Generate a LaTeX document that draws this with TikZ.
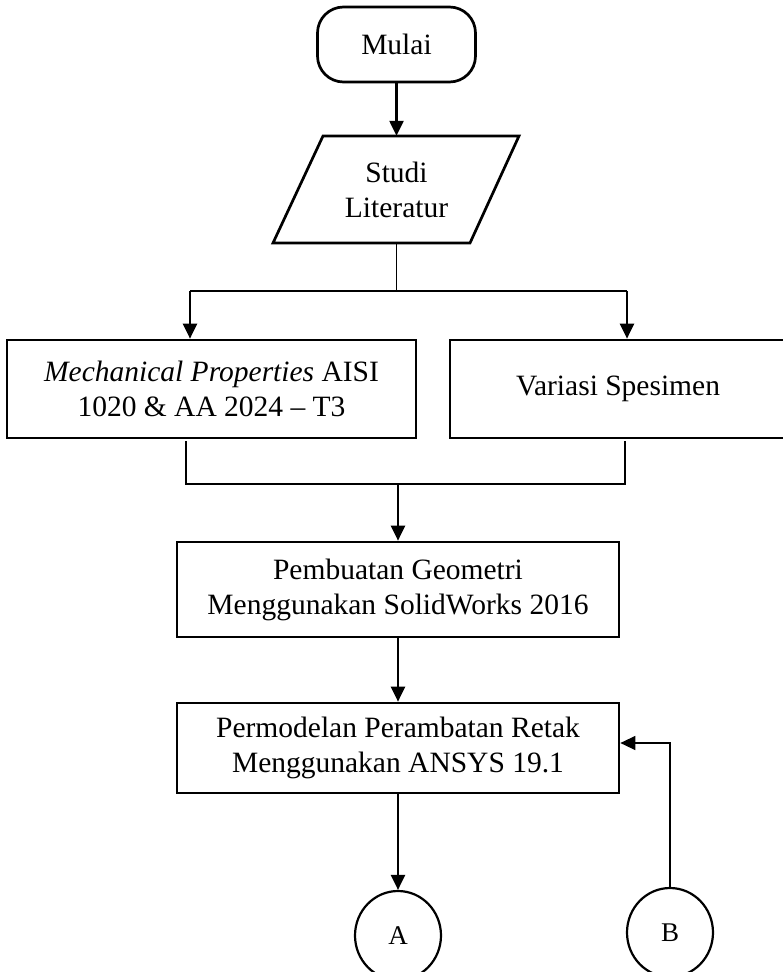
\documentclass[tikz,border=0pt]{standalone}
\usepackage{fontspec}
\setmainfont{Liberation Serif}
\usetikzlibrary{arrows.meta,shapes.geometric}
\begin{document}
\begin{tikzpicture}[x=1pt,y=-1pt,
  txt/.style={align=center, font=\fontsize{29.5}{35}\selectfont, inner sep=0pt},
  box/.style={txt, draw, line width=2.7pt},
  arr/.style={line width=2.4pt, -{Triangle[length=15pt,width=14pt]}},
  thinarr/.style={line width=1.3pt, -{Triangle[length=15pt,width=14pt]}},
  thin/.style={line width=1.3pt},
  med/.style={line width=2pt},
  conn/.style={draw, ellipse, line width=2.2pt, inner sep=0pt, minimum width=86pt, minimum height=89pt, font=\fontsize{27}{32}\selectfont}]
\useasboundingbox (0,0) rectangle (783,972);
% start
\node[box, rounded corners=26pt, minimum width=158pt, minimum height=75pt] (mulai) at (396.5,44.5) {Mulai};
% literature study (parallelogram)
\draw[line width=2.7pt, line join=miter] (323,136) -- (519,136) -- (470,243) -- (273,243) -- cycle;
\node[txt, minimum height=107pt, minimum width=150pt] (studi) at (396.5,189.5) {Studi\\Literatur};
\draw[arr] (mulai) -- (studi);
% branch
\node[box, minimum width=409pt, minimum height=98pt] (mech) at (211.5,389) {\textit{Mechanical Properties} AISI\\1020 \& AA 2024 -- T3};
\node[box, minimum width=336pt, minimum height=98pt] (var) at (618,389) {Variasi Spesimen};
\coordinate (split) at (396.5,291);
\coordinate (sl) at (190,291);
\coordinate (sr) at (627,291);
\draw[thin] (studi.south) -- (split);
\draw[med] (sl) -- (sr);
\draw[arr] (sl) -- (sl |- mech.north);
\draw[arr] (sr) -- (sr |- var.north);
% merge
\node[box, minimum width=442pt, minimum height=95pt] (pemb) at (398,589.5) {Pembuatan Geometri\\Menggunakan SolidWorks 2016};
\coordinate (jl) at (186,484);
\coordinate (jr) at (625,484);
\coordinate (join) at (398,484);
\draw[thin, shorten <=2pt, shorten >=2pt] (jl |- mech.south) -- (jl) -- (jr) -- (jr |- var.south);
\draw[arr] (join) -- (pemb.north);
% modelling
\node[box, minimum width=442pt, minimum height=90pt] (perm) at (398,748) {Permodelan Perambatan Retak\\Menggunakan ANSYS 19.1};
\draw[arr] (pemb) -- (perm);
% connectors
\node[conn] (A) at (398,935.5) {A};
\node[conn] (B) at (670,932.5) {B};
\draw[arr] (perm) -- (A);
\draw[thinarr] (B.north) |- ([yshift=5pt]perm.east);
\end{tikzpicture}
\end{document}
